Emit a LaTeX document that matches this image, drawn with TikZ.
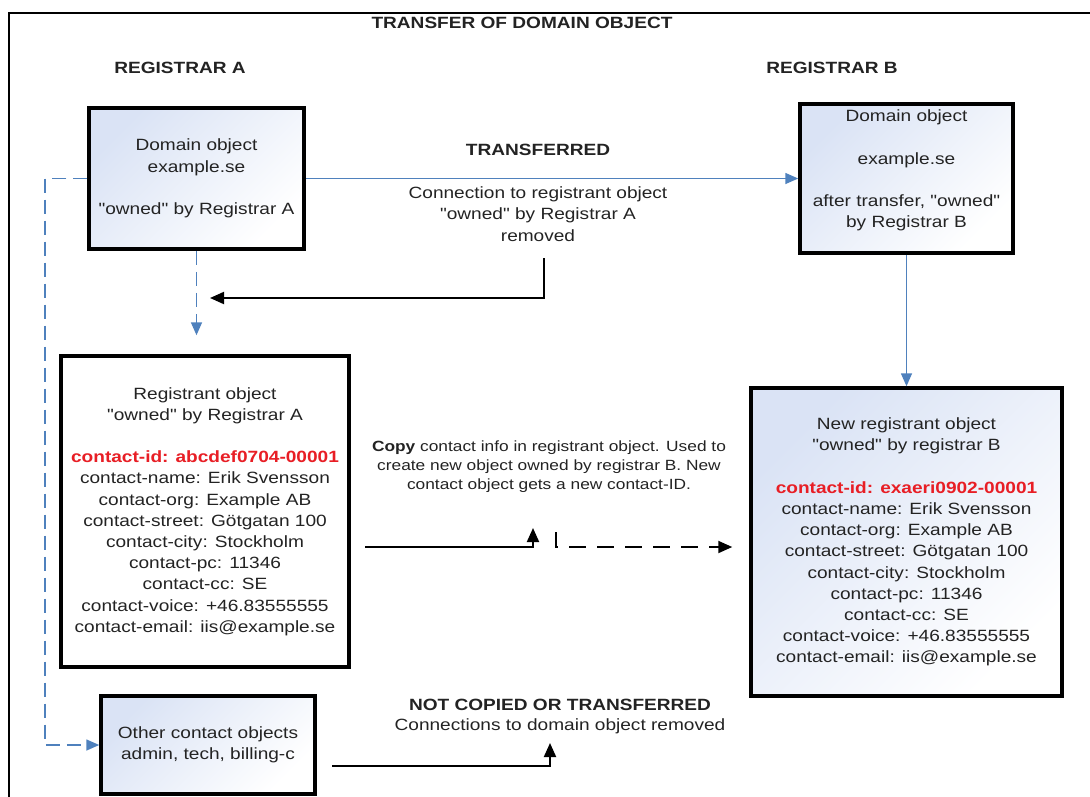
\documentclass[tikz,border=0pt]{standalone}
\usepackage{fontspec}
\setmainfont{Liberation Sans}[FakeStretch=1.17, Ligatures=TeXOff]
\usepackage{tikz}
\usetikzlibrary{arrows.meta}
\usetikzlibrary{positioning}
\definecolor{linkblue}{RGB}{79,129,189}
\definecolor{boxblue}{RGB}{218,227,245}
\definecolor{idred}{RGB}{232,30,37}
\definecolor{txtgray}{RGB}{35,35,35}

\begin{document}
\begin{tikzpicture}[x=1pt, y=-1pt,
    every node/.style={font=\fontsize{16.3}{21.2}\selectfont, text=txtgray, align=center},
    heading/.style={font=\fontsize{16.3}{21.2}\selectfont\bfseries},
    objbox/.style={draw=black, line width=3.5pt},
    shadebox/.style={objbox, top color=boxblue, bottom color=white, shading angle=45},
    bluelink/.style={draw=linkblue, line width=1.6pt, -{Triangle[length=13pt,width=11pt]}},
    bluedash/.style={bluelink, dash pattern=on 14pt off 7pt},
    blacklink/.style={draw=black, line width=2pt, -{Triangle[length=14pt,width=12pt]}}]

    \useasboundingbox (0,0) rectangle (1090,796);
    \draw[line width=2.5pt] (1095,13) -- (9,13) -- (9,800);

    \node[heading] (title) at (522,23) {TRANSFER OF DOMAIN OBJECT};
    \node[heading] (regAhead) at (180,68) {REGISTRAR A};
    \node[heading] (regBhead) at (832,68) {REGISTRAR B};

    % objects
    \node[shadebox, minimum width=215pt, minimum height=141pt] (domA) at (196.5,178.5)
        {Domain object\\example.se\\[21.2pt]"owned" by Registrar A};
    \node[shadebox, minimum width=213pt, minimum height=149pt] (domB) at (906.5,178.5) {};
    \node[below=4pt of domB.north] (domBtxt)
        {Domain object\\[21.2pt]example.se\\[21.2pt]after transfer, "owned"\\by Registrar B};
    \node[objbox, fill=white, minimum width=288pt, minimum height=311pt] (regA) at (205,511.5)
        {Registrant object\\"owned" by Registrar A\\[21.2pt]
         \textcolor{idred}{\bfseries contact-id: abcdef0704-00001}\\
         contact-name: Erik Svensson\\contact-org: Example AB\\
         contact-street: Götgatan 100\\contact-city: Stockholm\\
         contact-pc: 11346\\contact-cc: SE\\
         contact-voice: +46.83555555\\contact-email: iis@example.se};
    \node[shadebox, minimum width=311pt, minimum height=308pt] (regB) at (906.5,542)
        {New registrant object\\"owned" by registrar B\\[21.2pt]
         \textcolor{idred}{\bfseries contact-id: exaeri0902-00001}\\
         contact-name: Erik Svensson\\contact-org: Example AB\\
         contact-street: Götgatan 100\\contact-city: Stockholm\\
         contact-pc: 11346\\contact-cc: SE\\
         contact-voice: +46.83555555\\contact-email: iis@example.se};
    \node[shadebox, minimum width=214pt, minimum height=98pt] (oth) at (208,745)
        {Other contact objects\\admin, tech, billing-c};

    % labels
    \node[heading] (xferhead) at (538,150) {TRANSFERRED};
    \node (xfertxt) at (538,214) {Connection to registrant object\\"owned" by Registrar A\\removed};
    \node[font=\fontsize{14.8}{19}\selectfont] (copytxt) at (549,467)
        {\textbf{Copy} contact info in registrant object. Used to\\create new object owned by registrar B. New\\contact object gets a new contact-ID.};
    \node[heading] (nothead) at (560,705) {NOT COPIED OR TRANSFERRED};
    \node (nottxt) at (560,726) {Connections to domain object removed};

    \coordinate (rmTop) at (544,258);
    \coordinate (rmEnd) at (210,298);
    \coordinate (cpStart) at (365,547);
    \coordinate (cpTip) at (533,528);
    \coordinate (cpTick) at (556,532);
    \coordinate (ocStart) at (332,766);
    \coordinate (ocTip) at (550,743);

    % connectors
    \draw[bluelink] (domA.east) -- (domB.west);
    \draw[bluelink] (domB.south) -- (regB.north);
    \draw[bluedash] (domA.west) -- ++(-42,0) |- (oth.west);
    \draw[bluedash, shorten >=19pt] (domA.south) -- (domA.south |- regA.north);
    \draw[blacklink] (rmTop) |- (rmEnd);
    \draw[blacklink] (cpStart) -| (cpTip);
    \draw[blacklink, dash pattern=on 17pt off 11pt, shorten >=17pt] (cpTick) |- (regB.west |- cpStart);
    \draw[blacklink] (ocStart) -| (ocTip);

\end{tikzpicture}
\end{document}
